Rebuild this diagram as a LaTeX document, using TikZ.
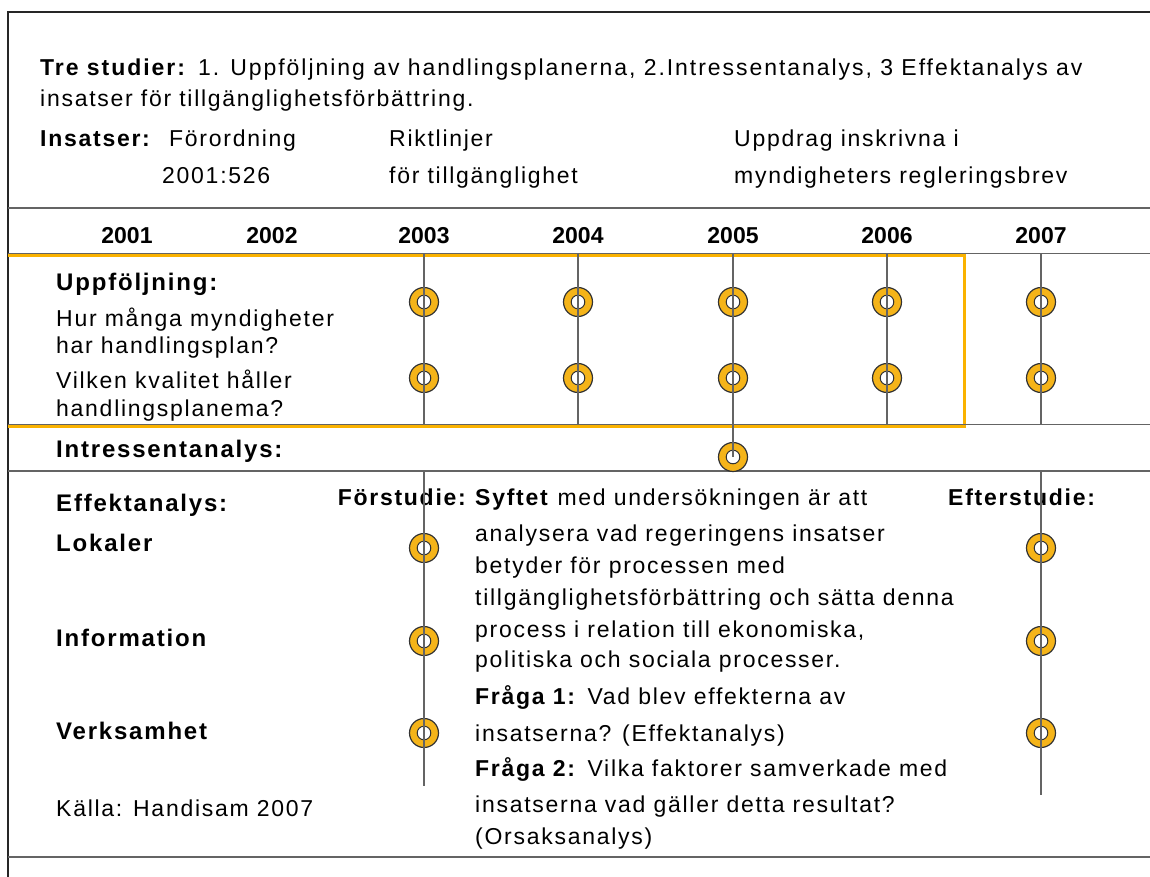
\documentclass[tikz,border=0pt]{standalone}
\usepackage{fontspec}
\setmainfont{Liberation Sans}[LetterSpace=7.5]
\newfontfamily\yrfont{Liberation Sans}
\definecolor{ringor}{RGB}{245,180,25}
\definecolor{boxor}{RGB}{250,178,0}
\definecolor{lgray}{RGB}{100,100,100}
\begin{document}
\begin{tikzpicture}[x=1bp,y=-1bp,
  txt/.style={anchor=base west,inner sep=0pt,font=\fontsize{23bp}{27bp}\selectfont},
  bt/.style={txt,font=\fontsize{24bp}{28bp}\selectfont\bfseries},
  bts/.style={txt,font=\fontsize{23bp}{27bp}\selectfont\bfseries},
  yr/.style={anchor=base,inner sep=0pt,font=\yrfont\fontsize{23bp}{27bp}\selectfont\bfseries},
  ring/.style={circle,draw=black!80,line width=1.2bp,fill=ringor,minimum size=29bp,inner sep=0pt,
    path picture={\draw[black!80,line width=1bp,fill=white] (path picture bounding box.center) circle (6.8bp);}},
  vline/.style={draw=lgray,line width=1.3bp},
  hline/.style={draw=lgray,line width=1.8bp},
  frame/.style={draw=black!85,line width=2.4bp}]
\useasboundingbox (0,0) rectangle (1150,877);
% frame
\coordinate (tl) at (8,12); \coordinate (tr) at (1150,12);
\coordinate (bl) at (8,877);
\coordinate (b1) at (8,857); \coordinate (b2) at (1150,857);
\draw[frame] (tr) -- (tl) -- (bl);
\draw[hline] (b1) -- (b2);
% horizontal rules
\coordinate (h1a) at (8,208); \coordinate (h1b) at (1150,208);
\coordinate (h4a) at (8,471); \coordinate (h4b) at (1150,471);
\draw[hline] (h1a) -- (h1b);
\draw[hline] (h4a) -- (h4b);
% orange box
\coordinate (ob1) at (8,255.5); \coordinate (ob2) at (964,255.5);
\coordinate (ob3) at (964,426.5); \coordinate (ob4) at (8,426.5);
\draw[boxor,line width=3bp] (ob1) -- (ob2) -- (ob3) -- (ob4);
\coordinate (h2a) at (8,253.5); \coordinate (h2b) at (1150,253.5);
\coordinate (h3a) at (8,424.5); \coordinate (h3b) at (1150,424.5);
\draw[hline,line width=1.4bp] (h2a) -- (h2b);
\draw[hline,line width=1.4bp] (h3a) -- (h3b);

% header text
\node[txt] (l1) at (40,75) {\addfontfeatures{LetterSpace=8.5}\textbf{Tre studier:} 1. Uppföljning av handlingsplanerna, 2.Intressentanalys, 3 Effektanalys av};
\node[txt] (l2) at (40,106) {insatser för tillgänglighetsförbättring.};
\node[bts] (ins) at (40,146) {Insatser:};
\node[txt] (i1a) at (169,146) {Förordning};
\node[txt] (i1b) at (162,183) {2001:526};
\node[txt] (i2a) at (389,146) {Riktlinjer};
\node[txt] (i2b) at (389,183) {för tillgänglighet};
\node[txt] (i3a) at (734,146) {Uppdrag inskrivna i};
\node[txt] (i3b) at (734,183) {myndigheters regleringsbrev};

% years
\node[yr] (y01) at (127,243) {2001};
\node[yr] (y02) at (272,243) {2002};
\node[yr] (y03) at (424,243) {2003};
\node[yr] (y04) at (578,243) {2004};
\node[yr] (y05) at (733,243) {2005};
\node[yr] (y06) at (887,243) {2006};
\node[yr] (y07) at (1041,243) {2007};

% left labels
\node[bt] (upp) at (56,290) {Uppföljning:};
\node[txt] (q1a) at (56,326) {Hur många myndigheter};
\node[txt] (q1b) at (56,353) {har handlingsplan?};
\node[txt] (q2a) at (56,388) {Vilken kvalitet håller};
\node[txt] (q2b) at (56,416) {handlingsplanema?};
\node[bt] (int) at (56,457) {Intressentanalys:};
\node[bt] (eff) at (56,511) {Effektanalys:};
\node[bt] (lok) at (56,551) {Lokaler};
\node[bt] (inf) at (56,646) {Information};
\node[bt] (ver) at (56,739) {Verksamhet};
\node[txt] (kal) at (56,816) {Källa: Handisam 2007};

% lower text
\node[bts,anchor=base east] (fore) at (466,505) {Förstudie:};
\node[bts] (efter) at (948,505) {Efterstudie:};
\node[txt] (p1) at (475,505) {\textbf{Syftet} med undersökningen är att};
\node[txt] (p2) at (475,541) {analysera vad regeringens insatser};
\node[txt] (p3) at (475,573) {betyder för processen med};
\node[txt] (p4) at (475,605) {tillgänglighetsförbättring och sätta denna};
\node[txt] (p5) at (475,637) {process i relation till ekonomiska,};
\node[txt] (p6) at (475,667) {politiska och sociala processer.};
\node[txt] (p7) at (475,704) {\textbf{Fråga 1:} Vad blev effekterna av};
\node[txt] (p8) at (475,741) {insatserna? (Effektanalys)};
\node[txt] (p9) at (475,776) {\textbf{Fråga 2:} Vilka faktorer samverkade med};
\node[txt] (p10) at (475,812) {insatserna vad gäller detta resultat?};
\node[txt] (p11) at (475,844) {(Orsaksanalys)};

% rings
\foreach \n/\x in {03/424,04/578,05/733,06/887,07/1041}{
  \node[ring] (r\n a) at (\x,302) {};
  \node[ring] (r\n b) at (\x,378) {};
}
\node[ring] (ri05) at (733,457) {};
\foreach \n/\x in {03/424,07/1041}{
  \node[ring] (e\n a) at (\x,548) {};
  \node[ring] (e\n b) at (\x,641) {};
  \node[ring] (e\n c) at (\x,733) {};
}
% vertical lines
\foreach \n/\x in {03/424,04/578,06/887,07/1041}{
  \coordinate (vt\n) at (\x,254); \coordinate (vb\n) at (\x,425);
  \draw[vline] (vt\n) -- (r\n a.center) -- (r\n b.center) -- (vb\n);
}
\coordinate (vt05) at (733,254);
\draw[vline] (vt05) -- (r05a.center) -- (r05b.center) -- (ri05.center);
\coordinate (lt03) at (424,471); \coordinate (lb03) at (424,786);
\draw[vline] (lt03) -- (e03a.center) -- (e03b.center) -- (e03c.center) -- (lb03);
\coordinate (lt07) at (1041,471); \coordinate (lb07) at (1041,795);
\draw[vline] (lt07) -- (e07a.center) -- (e07b.center) -- (e07c.center) -- (lb07);
\end{tikzpicture}
\end{document}
